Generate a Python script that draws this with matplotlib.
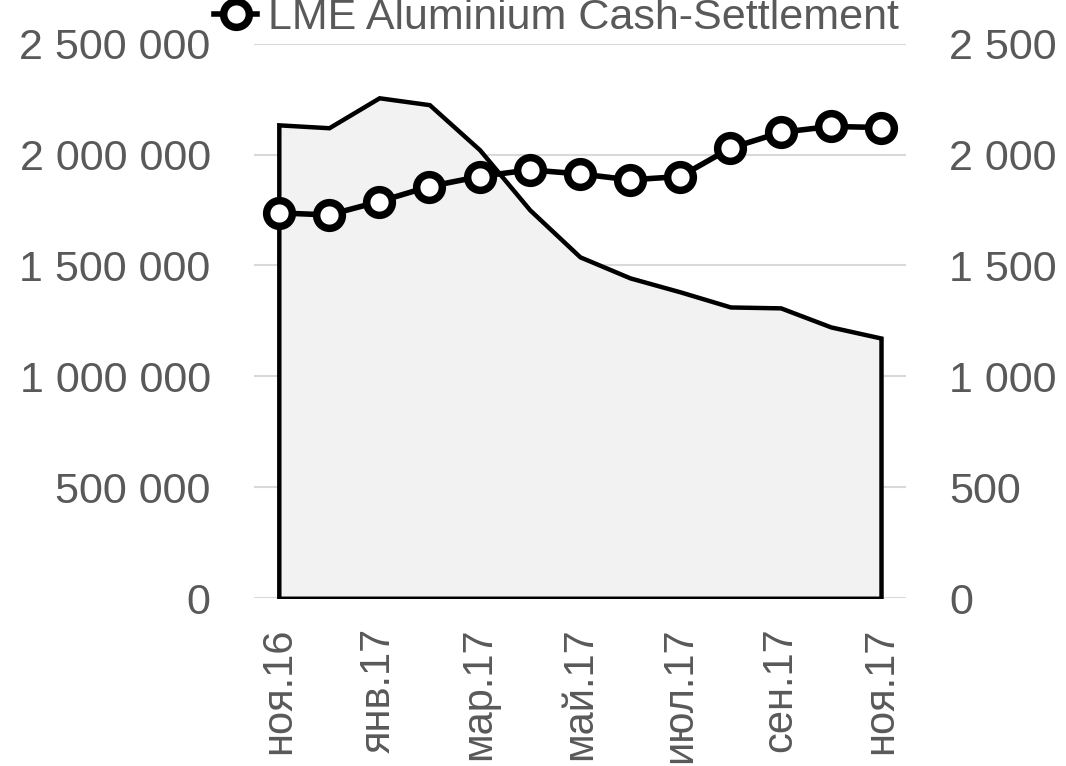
import matplotlib
matplotlib.use("Agg")
import matplotlib.pyplot as plt
import matplotlib.ticker as mticker
import numpy as np

# Monthly data, Nov 2016 .. Nov 2017
months = ["ноя.16", "дек.16", "янв.17", "фев.17", "мар.17", "апр.17", "май.17",
          "июн.17", "июл.17", "авг.17", "сен.17", "окт.17", "ноя.17"]
stocks = [2134000, 2121000, 2256000, 2225000, 2022000, 1751000, 1539000,
          1444000, 1381000, 1313000, 1309000, 1223000, 1173000]
price = [1737, 1728, 1788, 1856, 1901, 1931, 1913, 1886, 1901, 2029, 2100, 2127, 2122]
legend_label = "LME Aluminium Cash-Settlement"

GRAY = "#595959"
FONT = ["Liberation Sans", "DejaVu Sans"]


def space_thousands(v, _pos):
    return f"{int(round(v)):,}".replace(",", " ")


fig = plt.figure(figsize=(10.66, 7.66), dpi=100)
ax = fig.add_axes([0.238, 0.219, 0.612, 0.724])
x = np.arange(len(months))

ax.fill_between(x, stocks, 0, facecolor="#f2f2f2", edgecolor="black",
                linewidth=3.2, joinstyle="miter", zorder=2)
ax.set_ylim(0, 2500000)
ax.set_xlim(-0.5, len(months) - 0.5)
ax.yaxis.set_major_locator(mticker.MultipleLocator(500000))
ax.yaxis.set_major_formatter(mticker.FuncFormatter(space_thousands))
ax.grid(axis="y", color="#d9d9d9", linewidth=1.5, zorder=0)
ax.set_axisbelow(True)

ax2 = ax.twinx()
line, = ax2.plot(x, price, color="black", linewidth=4, marker="o",
                 markersize=18.5, markerfacecolor="white",
                 markeredgecolor="black", markeredgewidth=5.4, zorder=3,
                 label=legend_label)
ax2.set_ylim(0, 2500)
ax2.yaxis.set_major_locator(mticker.MultipleLocator(500))
ax2.yaxis.set_major_formatter(mticker.FuncFormatter(space_thousands))

for a in (ax, ax2):
    for s in a.spines.values():
        s.set_visible(False)
    a.tick_params(axis="y", length=0, pad=31, labelcolor=GRAY)
    for lbl in a.get_yticklabels():
        lbl.set_family(FONT)
        lbl.set_fontsize(31)

ax.set_xticks(x[::2])
ax.set_xticklabels(months[::2], rotation=90, family=FONT, fontsize=30,
                   color=GRAY)
ax.tick_params(axis="x", length=0, pad=21)

fig.legend(handles=[line], loc="center", bbox_to_anchor=(0.522, 0.976),
           frameon=False, handlelength=1.0, handletextpad=0.25,
           borderpad=0.0, prop={"family": FONT, "size": 31}, labelcolor=GRAY)

fig.savefig("out.png", dpi=100)
